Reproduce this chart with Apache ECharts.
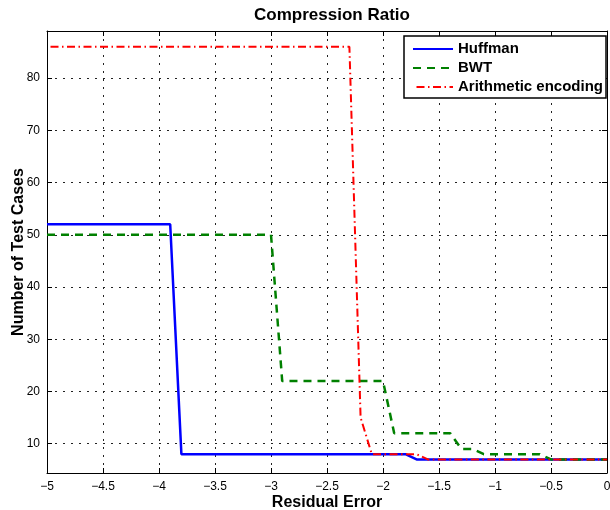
<!DOCTYPE html>
<html>
<head>
<meta charset="utf-8">
<script src="https://cdn.jsdelivr.net/npm/echarts@6/dist/echarts.min.js"></script>
<style>
  html, body { margin: 0; padding: 0; background: #fff; }
  #chart { width: 610px; height: 510px; }
</style>
</head>
<body>
<div id="chart"></div>
<script>
// breakpoints (x = residual error, y = number of test cases)
const huffmanX = [-5, -3.9, -3.8, -1.8, -1.7, 0];
const huffmanY = [52, 52, 8, 8, 7, 7];
const bwtX = [-5, -3.0, -2.9, -2.0, -1.9, -1.4, -1.3, -1.2, -1.1, -0.6, -0.5, 0];
const bwtY = [50, 50, 22, 22, 12, 12, 9, 9, 8, 8, 7, 7];
const arithX = [-5, -2.3, -2.2, -2.1, -1.7, -1.6, 0];
const arithY = [86, 86, 15, 8, 8, 7, 7];
const yTicks = [10, 20, 30, 40, 50, 60, 70, 80];

const font = 'Liberation Sans, Arial, Helvetica, sans-serif';
const pairs = (xs, ys) => xs.map((x, i) => [x, ys[i]]);
const minus = v => (v < 0 ? '\u2212' + Math.abs(v) : String(v));

const gridLine = { show: true, lineStyle: { color: '#222', width: 1, type: [2, 6] } };
const frame = { show: true, onZero: false, lineStyle: { color: '#000', width: 1 } };
const tick = { show: true, inside: true, length: 5, lineStyle: { color: '#000' } };

const myChart = echarts.init(document.getElementById('chart'));
myChart.setOption({
    animation: false,
    backgroundColor: '#fff',
    title: {
        text: 'Compression Ratio',
        left: 327,
        textAlign: 'center',
        top: 2,
        textStyle: { fontFamily: font, fontSize: 17, fontWeight: 'bold', color: '#000' }
    },
    grid: { left: 47, right: 3, top: 31, bottom: 37, outerBoundsMode: 'none', containLabel: false },
    legend: {
        orient: 'vertical',
        left: 404,
        top: 36,
        padding: [5, 3, 3, 8],
        itemWidth: 40,
        itemHeight: 16,
        itemGap: 3,
        backgroundColor: '#fff',
        borderColor: '#000',
        borderWidth: 1.5,
        borderRadius: 0,
        itemStyle: { opacity: 0 },
        textStyle: { fontFamily: font, fontSize: 15, fontWeight: 'bold', color: '#000', lineHeight: 16 },
        data: ['Huffman', 'BWT', 'Arithmetic encoding']
    },
    xAxis: [{
        type: 'value', min: -5, max: 0, interval: 0.5,
        name: 'Residual Error', nameLocation: 'middle', nameGap: 22, nameMoveOverlap: false,
        nameTextStyle: { fontFamily: font, fontSize: 16, fontWeight: 'bold', color: '#000' },
        axisLine: frame, axisTick: tick, splitLine: gridLine,
        axisLabel: { fontFamily: font, fontSize: 12, color: '#000', margin: 8, formatter: minus }
    }, {
        type: 'value', position: 'top', min: -5, max: 0, interval: 0.5,
        axisLine: frame, axisTick: tick, splitLine: { show: false }, axisLabel: { show: false }
    }],
    yAxis: [{
        type: 'value', min: 4.4, max: 89,
        name: 'Number of Test Cases', nameLocation: 'middle', nameGap: 20, nameMoveOverlap: false,
        nameTextStyle: { fontFamily: font, fontSize: 16, fontWeight: 'bold', color: '#000' },
        axisLine: frame,
        axisTick: Object.assign({ customValues: yTicks }, tick),
        splitLine: gridLine,
        axisLabel: { fontFamily: font, fontSize: 12, color: '#000', margin: 7, customValues: yTicks }
    }, {
        type: 'value', position: 'right', min: 4.4, max: 89,
        axisLine: frame,
        axisTick: Object.assign({ customValues: yTicks }, tick),
        splitLine: { show: false },
        axisLabel: { show: false, customValues: yTicks }
    }],
    series: [{
        name: 'Huffman', type: 'line', symbol: 'none', z: 3,
        data: pairs(huffmanX, huffmanY),
        lineStyle: { color: '#0000ff', width: 2.5 },
        itemStyle: { color: '#0000ff' }
    }, {
        name: 'BWT', type: 'line', symbol: 'none', z: 4,
        data: pairs(bwtX, bwtY),
        lineStyle: { color: '#008000', width: 2.5, type: [8, 6] },
        itemStyle: { color: '#008000' }
    }, {
        name: 'Arithmetic encoding', type: 'line', symbol: 'none', z: 5,
        data: pairs(arithX, arithY),
        lineStyle: { color: '#ff0000', width: 2, type: [8, 3.5, 1.5, 3.5], dashOffset: 13 },
        itemStyle: { color: '#ff0000' }
    }]
});
</script>
</body>
</html>
